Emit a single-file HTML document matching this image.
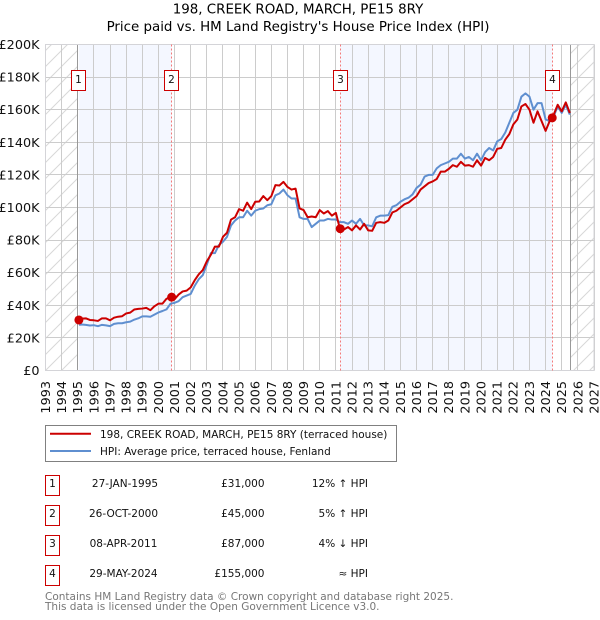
<!DOCTYPE html>
<html lang="en">
<head>
<meta charset="utf-8">
<title>198, CREEK ROAD, MARCH, PE15 8RY</title>
<style>
html,body{margin:0;padding:0;background:#fff;}
svg{display:block;}
text{font-family:"DejaVu Sans","Liberation Sans",sans-serif;}
</style>
</head>
<body>
<svg id="chart" xmlns="http://www.w3.org/2000/svg" width="600" height="620" viewBox="0 0 600 620">
  <defs>
    <pattern id="hatch" patternUnits="userSpaceOnUse" width="16" height="16">
      <path d="M-4 4L4 -4M0 16L16 0M12 20L20 12" stroke="#d8d8d8" stroke-width="1" fill="none"/>
    </pattern>
  </defs>
  <text x="298" y="13.5" text-anchor="middle" font-size="13.4" fill="#000">198, CREEK ROAD, MARCH, PE15 8RY</text>
  <text x="298" y="31" text-anchor="middle" font-size="13.4" fill="#000">Price paid vs. HM Land Registry's House Price Index (HPI)</text>

  <g id="plot"></g>

  <g>
    <rect x="45.5" y="425.5" width="351" height="36" fill="#fff" stroke="#808080" stroke-width="1"/>
    <line x1="50" x2="91" y1="433.7" y2="433.7" stroke="#cc0000" stroke-width="2"/>
    <text x="100" y="438" font-size="10.5" fill="#111">198, CREEK ROAD, MARCH, PE15 8RY (terraced house)</text>
    <line x1="50" x2="91" y1="451" y2="451" stroke="#5f8fd0" stroke-width="2"/>
    <text x="100" y="455" font-size="10.5" fill="#111">HPI: Average price, terraced house, Fenland</text>
  </g>

  <g font-size="10.5" fill="#111">
    <g>
      <rect x="45.5" y="475.5" width="14" height="20" fill="#fff" stroke="#cc0000" stroke-width="1"/>
      <text x="52.5" y="487" text-anchor="middle">1</text>
      <text x="125" y="487" text-anchor="middle">27-JAN-1995</text>
      <text x="264.5" y="487" text-anchor="end">£31,000</text>
      <text x="368" y="487" text-anchor="end">12% ↑ HPI</text>
    </g>
    <g>
      <rect x="45.5" y="505.5" width="14" height="20" fill="#fff" stroke="#cc0000" stroke-width="1"/>
      <text x="52.5" y="517" text-anchor="middle">2</text>
      <text x="123.5" y="517" text-anchor="middle">26-OCT-2000</text>
      <text x="264.5" y="517" text-anchor="end">£45,000</text>
      <text x="368" y="517" text-anchor="end">5% ↑ HPI</text>
    </g>
    <g>
      <rect x="45.5" y="535.5" width="14" height="20" fill="#fff" stroke="#cc0000" stroke-width="1"/>
      <text x="52.5" y="547" text-anchor="middle">3</text>
      <text x="123.5" y="547" text-anchor="middle">08-APR-2011</text>
      <text x="264.5" y="547" text-anchor="end">£87,000</text>
      <text x="368" y="547" text-anchor="end">4% ↓ HPI</text>
    </g>
    <g>
      <rect x="45.5" y="565.5" width="14" height="20" fill="#fff" stroke="#cc0000" stroke-width="1"/>
      <text x="52.5" y="577" text-anchor="middle">4</text>
      <text x="123.5" y="577" text-anchor="middle">29-MAY-2024</text>
      <text x="264.5" y="577" text-anchor="end">£155,000</text>
      <text x="368" y="577" text-anchor="end">≈ HPI</text>
    </g>
  </g>

  <text x="45" y="600" font-size="10.5" fill="#777">Contains HM Land Registry data © Crown copyright and database right 2025.</text>
  <text x="45" y="610" font-size="10.5" fill="#777">This data is licensed under the Open Government Licence v3.0.</text>
</svg>

<script>
var yearTicks = [1993,1994,1995,1996,1997,1998,1999,2000,2001,2002,2003,2004,2005,2006,2007,2008,2009,2010,2011,2012,2013,2014,2015,2016,2017,2018,2019,2020,2021,2022,2023,2024,2025,2026,2027];
var valueTicks = [0,20,40,60,80,100,120,140,160,180,200];
var valueTickLabels = ["£0","£20K","£40K","£60K","£80K","£100K","£120K","£140K","£160K","£180K","£200K"];

var dates = [1995.08,1995.25,1995.5,1995.75,
1996,1996.25,1996.5,1996.75,1997,1997.25,1997.5,1997.75,
1998,1998.25,1998.5,1998.75,1999,1999.25,1999.5,1999.75,
2000,2000.25,2000.5,2000.75,2001,2001.25,2001.5,2001.75,
2002,2002.25,2002.5,2002.75,2003,2003.25,2003.5,2003.75,
2004,2004.25,2004.5,2004.75,2005,2005.25,2005.5,2005.75,
2006,2006.25,2006.5,2006.75,2007,2007.25,2007.5,2007.75,
2008,2008.25,2008.5,2008.75,2009,2009.25,2009.5,2009.75,
2010,2010.25,2010.5,2010.75,2011,2011.25,2011.5,2011.75,
2012,2012.25,2012.5,2012.75,2013,2013.25,2013.5,2013.75,
2014,2014.25,2014.5,2014.75,2015,2015.25,2015.5,2015.75,
2016,2016.25,2016.5,2016.75,2017,2017.25,2017.5,2017.75,
2018,2018.25,2018.5,2018.75,2019,2019.25,2019.5,2019.75,
2020,2020.25,2020.5,2020.75,2021,2021.25,2021.5,2021.75,
2022,2022.25,2022.5,2022.75,2023,2023.25,2023.5,2023.75,
2024,2024.25,2024.5,2024.75,2025,2025.25,2025.5];

var pricePaid = [31,31.8,32,31,
30.8,30.4,32,32,30.8,32.4,33,33.3,
35,35.5,37.4,37.8,38,38.4,37,39.4,
41,41,44,45,43.7,46.6,48.5,49,
51,55.4,59,61.6,67,71,76,76,
82,84.5,92.6,94,99,98,103,99,
103.5,103.7,107,104.5,107,113.7,113.5,115.7,
112.6,111,111.6,99.4,98.4,94,94.5,94,
98.4,96.3,97.8,95,96.7,87,86.5,88,
86,89,86.5,90,86,85.7,90.6,91,
90.6,92,97,98,100,102,103,105,
107,111,113,115,116,117.5,122,122,
123.7,126,125,128,125.7,126,125,129,
125.7,130.4,129,131,136,136.5,141.6,145,
151,154,162,163.5,160,152,159,153,
147,153,157,163,159,164.5,158];

var hpiIndex = [28,28.2,28,27.6,
27.8,27.2,28,27.7,27.2,28.6,29,29,
29.6,30,31.2,32,33.2,33.2,33,34.3,
35.6,36.5,37.5,41,41.5,42.5,45,46,
47,52,56,58.5,65,72,72,77,
79,82,89,92,94,94,98,95,
98,99,99.4,101.4,102,107.5,108.6,111,
107.5,105.5,105.5,94,93,93,88,90,
92,92,93,92.6,92.6,91,91,90,
92,90,93,89,89,88.5,94,95,
95,95.3,100.4,101.4,103.5,105,106,108,
112,114,119,120,120,124,126,127,
128,130,130,133,130,131,129,133,
129,134,136.5,135,140.6,142,146,152,
158,160,168,170,168,160,164,164,
154,153,156,162,158,163,157];

var saleDates = [1995.07,2000.82,2011.27,2024.41];
var saleValues = [31,45,87,155];
var saleNumbers = ["1","2","3","4"];

var SVGNS = "http://www.w3.org/2000/svg";
var plot = document.getElementById("plot");
var X0 = 45.5, X1 = 594, Y0 = 370.5, Y1 = 44.5;
var dataStartYear = 1995, dataEndYear = 2025.53;

function xScale(year){ return X0 + (year - 1993) * (X1 - X0) / 34; }
function yScale(value){ return Y0 - value * (Y0 - Y1) / 200; }
function make(tag, attrs, parent){
  var el = document.createElementNS(SVGNS, tag);
  for (var k in attrs) el.setAttribute(k, attrs[k]);
  (parent || plot).appendChild(el);
  return el;
}
function crisp(v){ return Math.round(v - 0.5) + 0.5; }

var bg = make("rect", {x:X0, y:Y1, width:X1-X0, height:Y0-Y1, fill:"#fff"});



var hatchLeft = make("rect", {x:X0, y:Y1, width:xScale(dataStartYear)-X0, height:Y0-Y1, fill:"url(#hatch)"});



var hatchRight = make("rect", {x:xScale(dataEndYear), y:Y1, width:X1-xScale(dataEndYear), height:Y0-Y1, fill:"url(#hatch)"});



var bandA = make("rect", {x:xScale(saleDates[0]), y:Y1, width:xScale(saleDates[1])-xScale(saleDates[0]), height:Y0-Y1, fill:"#f4f7ff"});



var bandB = make("rect", {x:xScale(saleDates[2]), y:Y1, width:xScale(saleDates[3])-xScale(saleDates[2]), height:Y0-Y1, fill:"#f4f7ff"});



yearTicks.forEach(function(year){
  var x = crisp(xScale(year));
  var g = make("line", {x1:x, x2:x, y1:Y1, y2:Y0, stroke:"#cccccc", "stroke-width":1});
  
  
  var t = make("text", {x:0, y:0, "font-size":12.8, fill:"#111", "text-anchor":"end",
    transform:"translate(" + (xScale(year) + 4.4) + ",381) rotate(-90)"});
  t.textContent = String(year);
  
  
});

valueTicks.forEach(function(value, i){
  var y = crisp(yScale(value));
  var g = make("line", {x1:X0, x2:X1, y1:y, y2:y, stroke:"#cccccc", "stroke-width":1});
  
  
  var t = make("text", {x:39.5, y:yScale(value)+4.5, "font-size":12.8, fill:"#111", "text-anchor":"end"});
  t.textContent = valueTickLabels[i];
  
  
});

[dataStartYear, dataEndYear].forEach(function(year){
  var x = crisp(xScale(year));
  var l = make("line", {x1:x, x2:x, y1:Y1, y2:Y0, stroke:"#999999", "stroke-width":1});
  
  
});

var frame = make("rect", {x:X0, y:Y1, width:X1-X0, height:Y0-Y1, fill:"none", stroke:"#d4d4d8", "stroke-width":1});



saleDates.forEach(function(year, i){
  if (i === 0) return;
  var x = crisp(xScale(year));
  var l = make("line", {x1:x, x2:x, y1:Y1, y2:Y0, stroke:"#f47a7a", "stroke-width":1, "stroke-dasharray":"2,2"});
  
  
});

function seriesPath(values){
  var d = "";
  for (var i = 0; i < dates.length; i++) {
    d += (i ? "L" : "M") + xScale(dates[i]).toFixed(2) + " " + yScale(values[i]).toFixed(2);
  }
  return d;
}
var hpiLine = make("path", {d:seriesPath(hpiIndex), fill:"none", stroke:"#5f8fd0", "stroke-width":2, "stroke-linejoin":"round"});



var priceLine = make("path", {d:seriesPath(pricePaid), fill:"none", stroke:"#cc0000", "stroke-width":2, "stroke-linejoin":"round"});



saleDates.forEach(function(year, i){
  var c = make("circle", {cx:xScale(year), cy:yScale(saleValues[i]), r:4.5, fill:"#cc0000"});
  
  
  var cx = crisp(xScale(year));
  var b = make("rect", {x:cx-7, y:70.5, width:14, height:20, fill:"#fff", stroke:"#cc0000", "stroke-width":1});
  
  
  var t = make("text", {x:cx, y:83, "font-size":10.5, fill:"#111", "text-anchor":"middle"});
  t.textContent = saleNumbers[i];
  
  
});
</script>
</body>
</html>
